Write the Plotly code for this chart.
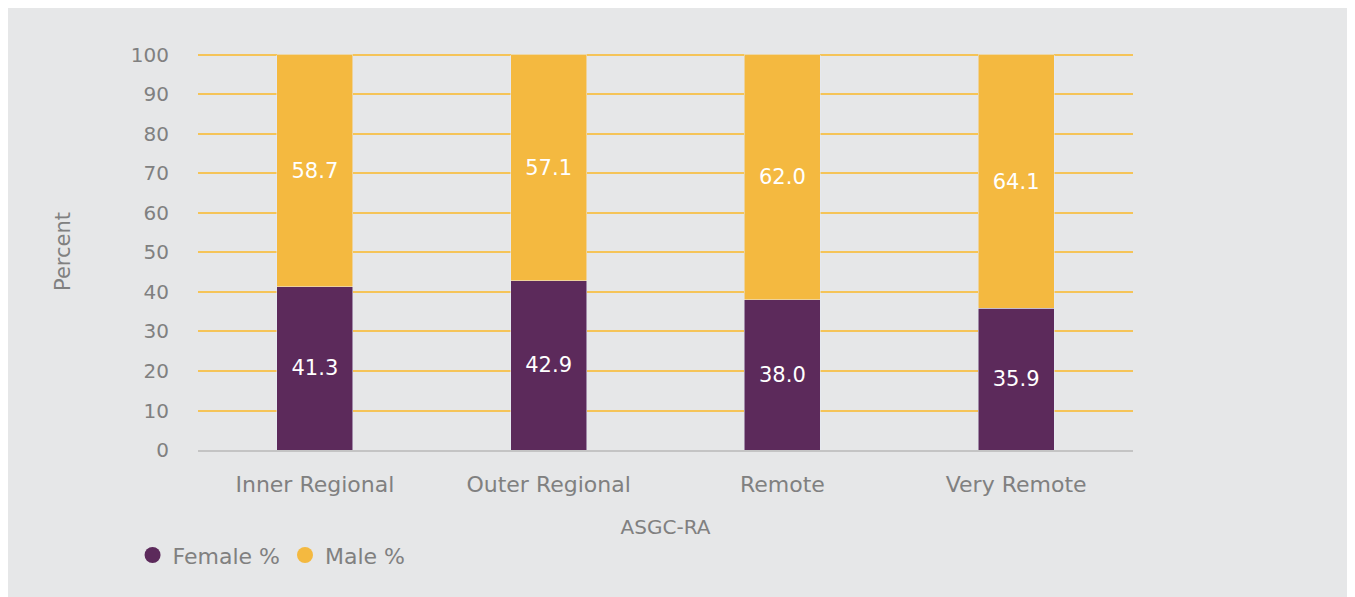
import plotly.graph_objects as go

# ASGC-RA remoteness categories and sex split (percent)
categories = ["Inner Regional", "Outer Regional", "Remote", "Very Remote"]
female_pct = [41.3, 42.9, 38.0, 35.9]
male_pct = [58.7, 57.1, 62.0, 64.1]
y_ticks = [0, 10, 20, 30, 40, 50, 60, 70, 80, 90, 100]

PURPLE = "#5c2a5b"
YELLOW = "#f4b940"
BG = "#e6e7e8"
TEXT = "#808080"
FONT = "DejaVu Sans"

fig = go.Figure()

# stacked bars
fig.add_trace(go.Bar(
    x=categories, y=female_pct, name="Female %",
    marker_color=PURPLE, text=[f"{v:.1f}" for v in female_pct],
    textposition="inside", insidetextanchor="middle",
    textfont=dict(color="white", size=21, family=FONT),
    showlegend=False,
))
fig.add_trace(go.Bar(
    x=categories, y=male_pct, name="Male %",
    marker_color=YELLOW, text=[f"{v:.1f}" for v in male_pct],
    textposition="inside", insidetextanchor="middle",
    textfont=dict(color="white", size=21, family=FONT),
    showlegend=False,
))

# legend entries with round markers
for name, col in [("Female %", PURPLE), ("Male %", YELLOW)]:
    fig.add_trace(go.Scatter(
        x=[None], y=[None], mode="markers", name=name,
        marker=dict(symbol="circle", size=20, color=col),
    ))

fig.update_layout(
    width=1347, height=589,
    barmode="stack", bargap=0.675,
    paper_bgcolor=BG, plot_bgcolor=BG,
    margin=dict(l=190, r=222, t=45, b=147),
    font=dict(family=FONT, color=TEXT, size=19),
    legend=dict(
        orientation="h", traceorder="normal",
        x=-0.07, xanchor="left", y=-0.265, yanchor="middle",
        font=dict(size=22, color=TEXT), bgcolor="rgba(0,0,0,0)",
        itemwidth=30,
    ),
)

fig.update_xaxes(
    showgrid=False, showline=True, linecolor="#c4c4c4", linewidth=2,
    tickfont=dict(size=22, color=TEXT), ticklabelstandoff=14,
    title=dict(text="ASGC-RA", font=dict(size=20, color=TEXT), standoff=24),
)
fig.update_yaxes(
    range=[0, 100.5], tickvals=y_ticks, showgrid=True,
    gridcolor="#f5c458", gridwidth=2, zeroline=False,
    tickfont=dict(size=20, color=TEXT), ticklabelstandoff=28,
    title=dict(text="Percent", font=dict(size=21, color=TEXT), standoff=54),
)

fig.write_html("out.html")
